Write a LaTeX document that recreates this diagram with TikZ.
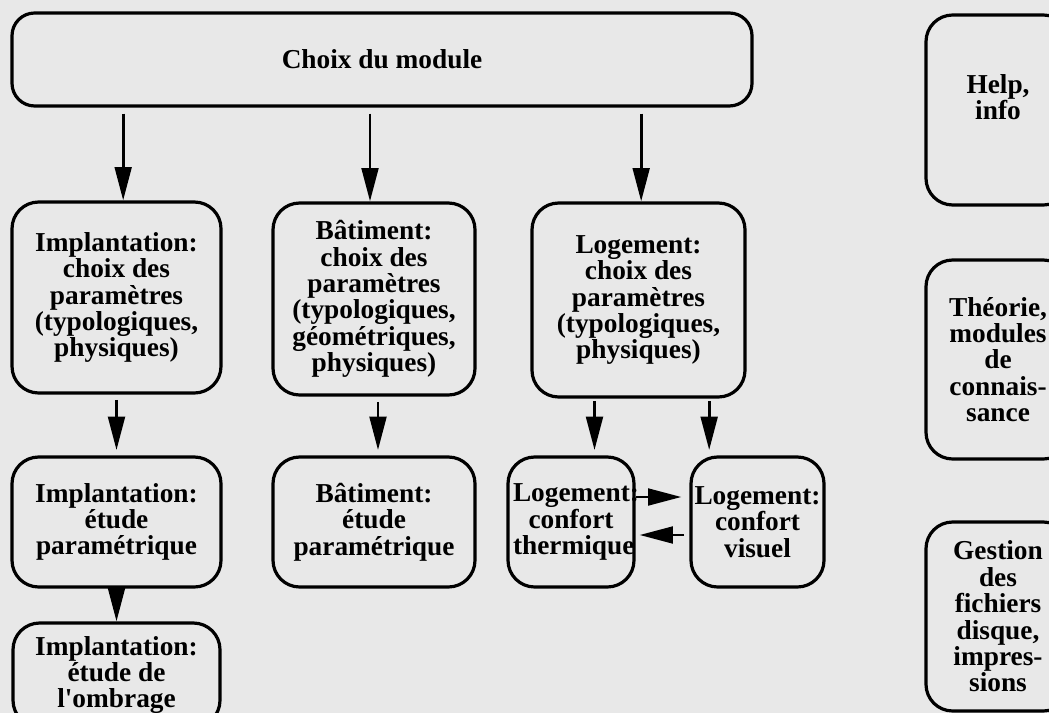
\documentclass[tikz,border=0pt]{standalone}
\usepackage{fontspec}
\setmainfont{Liberation Serif}
\usetikzlibrary{arrows.meta}
\definecolor{paper}{RGB}{232,232,232}
\hyphenpenalty=10000

\begin{document}
\begin{tikzpicture}[x=0.75pt,y=-0.75pt,
    box/.style={draw, line width=2.4pt, rounded corners=20pt, align=center, inner sep=2pt,
      font=\bfseries\fontsize{20.5}{19.8}\selectfont},
    arr/.style={line width=2.2pt, -{Triangle[length=25pt,width=12.5pt]}}]
    \fill[paper] (0,0) rectangle (1049,713);
    \clip (0,0) rectangle (1049,713);
    \node[box, rounded corners=17pt, minimum width=555pt, minimum height=69.75pt] (choix) at (382,59.5) {Choix du module};
    \node[box, minimum width=156.75pt, minimum height=143.25pt] (impl1) at (116.5,297.5) {Implantation:\\choix des\\param\`etres\\(typologiques,\\physiques)};
    \node[box, minimum width=151.5pt, minimum height=144pt] (bat1) at (374,299) {B\^atiment:\\choix des\\param\`etres\\(typologiques,\\g\'eom\'etriques,\\physiques)};
    \node[box, minimum width=159.75pt, minimum height=145.5pt] (log1) at (638.5,300) {Logement:\\choix des\\param\`etres\\(typologiques,\\physiques)};
    \node[box, minimum width=156.75pt, minimum height=97.5pt] (impl2) at (116.5,522) {Implantation:\\\'etude\\param\'etrique};
    \node[box, minimum width=151.5pt, minimum height=97.5pt] (bat2) at (374,522) {B\^atiment:\\\'etude\\param\'etrique};
    \node[box, text width=87pt, minimum width=94.5pt, minimum height=97.5pt] (logT) at (571,522) {\mbox{Logement:}\\confort\\\mbox{thermique}};
    \node[box, minimum width=99.75pt, minimum height=97.5pt] (logV) at (757.5,522) {Logement:\\confort\\visuel};
    \node[box, minimum width=155.25pt, minimum height=78pt] (impl3) at (116.5,675) {Implantation:\\\'etude de\\l\textquotesingle ombrage};
    \node[box, minimum width=108pt, minimum height=142.5pt] (help) at (998,110) {Help,\\info\\\mbox{}};
    \node[box, minimum width=108pt, minimum height=149.25pt] (theo) at (998,359.5) {Th\'eorie,\\modules\\de\\connais-\\sance};
    \node[box, minimum width=108pt, minimum height=141.75pt] (gest) at (998,616.5) {Gestion\\des\\fichiers\\disque,\\impres-\\sions};
    \draw[arr, shorten <=4.5pt] ([xshift=5pt]impl1.north |- choix.south) -- ([xshift=5pt]impl1.north);
    \draw[arr, shorten <=4.5pt] ([xshift=-3pt]bat1.north |- choix.south) -- ([xshift=-3pt]bat1.north);
    \draw[arr, shorten <=4.5pt] ([xshift=2pt]log1.north |- choix.south) -- ([xshift=2pt]log1.north);
    \draw[arr, shorten <=4pt, shorten >=4pt] (impl1.south) -- (impl2.north);
    \draw[arr, shorten <=4pt, shorten >=4pt] ([xshift=3pt]bat1.south) -- ([xshift=3pt]bat1.south |- bat2.north);
    \draw[arr, shorten <=2pt, shorten >=4pt] ([xshift=-33pt]log1.south) -- ([xshift=-33pt]log1.south |- logT.north);
    \draw[arr, shorten <=2pt, shorten >=4pt] ([xshift=53pt]log1.south) -- ([xshift=53pt]log1.south |- logV.north);
    \draw[arr] (impl2.south) -- (impl3.north);
    \draw[arr, shorten >=6pt] ([yshift=18.75pt]logT.east) -- ([yshift=18.75pt]logV.west);
    \draw[arr, shorten <=4pt, shorten >=3pt] ([yshift=-9.75pt]logV.west) -- ([yshift=-9.75pt]logT.east);
\end{tikzpicture}
\end{document}
